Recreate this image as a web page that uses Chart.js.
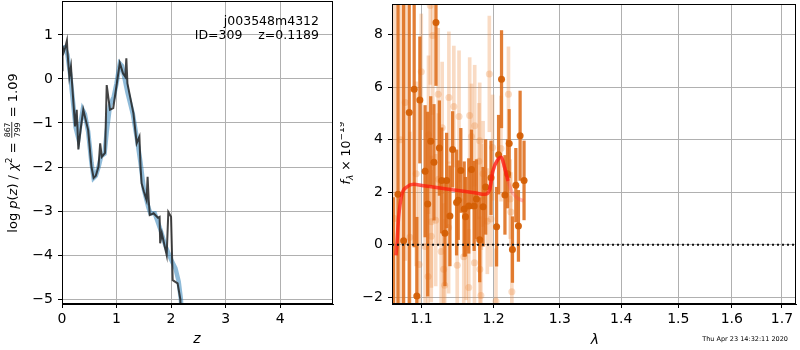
<!DOCTYPE html>
<html>
<head>
<meta charset="utf-8">
<script src="https://cdn.jsdelivr.net/npm/chart.js@4.4.0/dist/chart.umd.min.js"></script>
<style>
  html, body { margin: 0; padding: 0; background: #fff; }
  #wrap { position: relative; width: 800px; height: 350px; overflow: hidden; }
  #c-pz { position: absolute; left: 0; top: 0; }
  #c-spec { position: absolute; left: 340px; top: 0; }
</style>
</head>
<body>
<div id="wrap">
  <canvas id="c-pz" width="340" height="350"></canvas>
  <canvas id="c-spec" width="460" height="350"></canvas>
</div>
<script>
// p(z) panel
const zDark = [0, 0.01, 0.03, 0.06, 0.09, 0.10, 0.135, 0.165, 0.18, 0.21, 0.24, 0.27, 0.30, 0.34, 0.39,
  0.48, 0.54, 0.58, 0.62, 0.67, 0.70, 0.73, 0.79, 0.82, 0.88, 0.94, 1.06, 1.12, 1.16, 1.18, 1.20,
  1.31, 1.37, 1.42, 1.44, 1.46, 1.50, 1.55, 1.57, 1.59, 1.61, 1.68, 1.76, 1.79, 1.80, 1.83, 1.92,
  1.95, 2.00, 2.03, 2.12, 2.17, 2.19];
const pDark = [0.2, 0.75, 0.6, 0.72, 0.87, 0.62, 0.05, 0.28, -0.02, -0.55, -1.08, -0.70, -1.6, -1.16, -0.70,
  -1.16, -1.99, -2.25, -2.2, -1.99, -1.46, -1.77, -1.68, -0.14, -0.70, -0.66, 0.36, 0.12, 0.05, 0.47, -0.1,
  -0.78, -1.46, -1.31, -1.99, -2.37, -2.55, -2.75, -2.22, -2.75, -3.09, -3.05, -3.15, -3.13, -3.73, -3.5, -4.0,
  -3.02, -3.13, -4.57, -4.64, -5.0, -5.6];
const zBlue = [0, 0.05, 0.10, 0.15, 0.20, 0.25, 0.30, 0.34, 0.38, 0.42, 0.48, 0.54, 0.58, 0.62, 0.67,
  0.72, 0.78, 0.82, 0.88, 0.95, 1.00, 1.06, 1.10, 1.15, 1.20, 1.30, 1.38, 1.44, 1.50, 1.58, 1.62,
  1.70, 1.80, 1.90, 2.00, 2.08, 2.14, 2.18, 2.20];
const pBlue = [0.7, 0.72, 0.55, 0.1, -0.5, -1.1, -1.35, -1.0, -0.7, -0.8, -1.2, -1.9, -2.25, -2.2, -2.0,
  -1.75, -1.7, -1.2, -0.6, -0.4, -0.1, 0.35, 0.3, 0.0, -0.3, -0.8, -1.4, -1.9, -2.5, -2.9, -3.05,
  -3.05, -3.4, -3.8, -4.1, -4.3, -4.6, -5.0, -5.5];

// spectrum panel
const wDark = [1.0632, 1.0692, 1.0765, 1.0838, 1.0903, 1.0938, 1.0978, 1.1048, 1.1083, 1.1123, 1.1167,
  1.1194, 1.1240, 1.1271, 1.1316, 1.1339, 1.1384, 1.1421, 1.1476, 1.1499, 1.1535, 1.1582, 1.1600,
  1.1646, 1.1684, 1.1722, 1.1754, 1.1801, 1.1849, 1.1886, 1.1963, 1.2044, 1.2073, 1.2116, 1.2166,
  1.2204, 1.2229, 1.2277, 1.2327, 1.2366, 1.2391, 1.2450];
const fDark = [-3.5, 1.92, 0.16, 5.03, 5.92, -1.95, 5.51, 2.80, 1.55, 3.94, 3.14,
  8.46, 3.68, 2.45, 0.44, 2.45, 1.10, 3.63, 1.61, 1.70, 2.83, 1.36, 1.07,
  1.48, 2.87, 1.48, 1.74, 0.19, 1.45, 2.20, 2.55, 0.69, 3.43, 6.30, 1.90,
  2.70, 3.85, -0.18, 2.27, 0.72, 4.15, 2.45];
const eDark = [5.3, 9, 10, 8, 6, 3, 2.4, 2.5, 3.5, 1.7, 2.2,
  2.4, 1.8, 2.0, 2.0, 1.8, 1.9, 1.44, 2.0, 1.5, 1.6, 1.8, 1.5,
  1.8, 1.5, 1.7, 1.5, 1.6, 1.5, 1.8, 1.4, 1.5, 1.5, 1.85, 1.5,
  1.3, 1.3, 1.25, 1.4, 1.35, 1.7, 1.5];

const wLight = [1.0647, 1.0724, 1.0786, 1.0847, 1.0929, 1.0968, 1.0997, 1.1048, 1.1087, 1.1093, 1.1117,
  1.1130, 1.1132, 1.1150, 1.1190, 1.1224, 1.1227, 1.1264, 1.1278, 1.1298, 1.1312, 1.1366, 1.1370,
  1.1438, 1.1485, 1.1510, 1.1576, 1.1610, 1.1646, 1.1659, 1.1684, 1.1726, 1.1730, 1.1790, 1.1801,
  1.1803, 1.1818, 1.1825, 1.1849, 1.1910, 1.1939, 1.1963, 1.1986, 1.2035, 1.2108, 1.2218, 1.2243,
  1.2253, 1.2268];
const fLight = [1.0, 4.0, 5.41, 0.29, 2.70, -0.75, 6.58, -0.06, -1.20, 4.19, 9.10,
  0.33, 0.88, 7.96, 0.94, 5.73, 2.49, -0.25, 4.45, -0.93, -1.54, 0.66, 5.60,
  5.26, -0.78, 4.88, -0.45, -0.09, -1.62, 4.92, 4.12, -0.68, 4.53, 3.18, 3.96,
  -0.93, -1.93, 1.82, 2.70, 0.90, 6.50, 0.98, 3.70, -2.15, 3.66, 5.73, 1.74,
  1.25, -1.78];
const eLight = [10, 7, 6, 4, 3.5, 3, 2.2, 3, 2.8, 3, 3,
  2.5, 2.5, 3, 2.5, 2.5, 2.5, 2.5, 2.5, 2.5, 2.5, 2.5, 2.5,
  2.3, 2.3, 2.5, 2.2, 2.0, 2.2, 2.2, 2.0, 2.0, 2.3, 2.2, 2.2,
  2.0, 2.0, 2.0, 2.0, 2.0, 2.2, 1.8, 2.0, 2.0, 2.0, 1.8, 1.5,
  1.5, 1.5];

const wModel = [1.0666, 1.0678, 1.0700, 1.0743, 1.0808, 1.0896, 1.1004, 1.1270, 1.1497, 1.1730,
  1.1873, 1.1945, 1.1989, 1.2063, 1.2113, 1.2162, 1.2212];
const fModel = [-0.4, 0.04, 1.04, 1.92, 2.20, 2.30, 2.26, 2.15, 2.07, 1.98,
  1.92, 2.11, 2.80, 3.25, 3.33, 2.93, 2.43];
const wModel2 = [1.1945, 1.1989, 1.2063, 1.2113, 1.2162, 1.2212, 1.2263, 1.2339, 1.2441];
const fModel2 = [2.11, 2.80, 3.25, 3.33, 2.93, 2.43, 2.05, 1.80, 1.67];

const wZero = [1.0615, 1.729];
const fZero = [0, 0];

const xTicksSpec = [1.1, 1.2, 1.3, 1.4, 1.5, 1.6, 1.7];

Chart.defaults.font.family = 'DejaVu Sans';
Chart.defaults.font.size = 14;
Chart.defaults.color = '#000';

const GRID = '#b0b0b0';
const REG = 'DejaVu Sans';

function pts(xs, ys) {
  return xs.map((x, i) => ({ x, y: ys[i] }));
}
function errs(xs, ys, es) {
  return xs.map((x, i) => ({ x, y: [ys[i] - es[i], ys[i] + es[i]] }));
}
function minus(v) {
  return v < 0 ? '\u2212' + Math.abs(v) : String(v);
}

// draws a row of text pieces centred on the origin
function drawPieces(ctx, pieces) {
  let w = 0;
  pieces.forEach(p => {
    ctx.font = p.font;
    p.w = p.frac
      ? Math.max(ctx.measureText(p.num).width, ctx.measureText(p.den).width) + 2
      : ctx.measureText(p.t).width;
    w += p.w;
  });
  let x = -w / 2;
  ctx.textBaseline = 'alphabetic';
  pieces.forEach(p => {
    ctx.font = p.font;
    if (p.frac) {
      ctx.textAlign = 'center';
      ctx.fillText(p.num, x + p.w / 2, -6.4);
      ctx.fillText(p.den, x + p.w / 2, 3.6);
      ctx.fillRect(x + 0.5, -5.1, p.w - 1, 0.8);
      ctx.textAlign = 'left';
    } else {
      ctx.textAlign = 'left';
      ctx.fillText(p.t, x, p.dy || 0);
    }
    x += p.w;
  });
}

const framePlugin = {
  id: 'frame',
  afterDraw(chart) {
    const { ctx, chartArea: a } = chart;
    ctx.save();
    ctx.strokeStyle = '#000';
    ctx.lineWidth = 1;
    ctx.strokeRect(a.left + 0.5, a.top + 0.5, a.right - a.left - 1, a.bottom - a.top - 1);
    ctx.restore();
  }
};

const pzText = {
  id: 'pzText',
  afterDraw(chart) {
    const ctx = chart.ctx;
    ctx.save();
    ctx.fillStyle = '#000';
    ctx.font = '12.5px ' + REG;
    ctx.textAlign = 'right';
    ctx.fillText('j003548m4312', 319, 25);
    ctx.fillText('ID=309    z=0.1189', 319, 39);
    ctx.font = 'italic 14px ' + REG;
    ctx.textAlign = 'center';
    ctx.fillText('z', 197, 343);
    ctx.translate(16.5, 153);
    ctx.rotate(-Math.PI / 2);
    const f = '13px ' + REG, fi = 'italic 13px ' + REG, fs = '9px ' + REG;
    drawPieces(ctx, [
      { t: 'log ', font: f }, { t: 'p', font: fi }, { t: '(', font: f }, { t: 'z', font: fi },
      { t: ') / ', font: f }, { t: '\u03c7', font: fi }, { t: '2', font: fs, dy: -5 },
      { t: ' = ', font: f }, { frac: true, num: '867', den: '799', font: '7.8px ' + REG },
      { t: ' = 1.09', font: f }
    ]);
    ctx.restore();
  }
};

const specText = {
  id: 'specText',
  afterDraw(chart) {
    const ctx = chart.ctx;
    ctx.save();
    ctx.fillStyle = '#000';
    ctx.font = 'italic 14px ' + REG;
    ctx.textAlign = 'center';
    ctx.fillText('\u03bb', 255, 344);
    ctx.font = '6.5px ' + REG;
    ctx.textAlign = 'right';
    ctx.fillText('Thu Apr 23 14:32:11 2020', 448, 341);
    ctx.translate(10, 153);
    ctx.rotate(-Math.PI / 2);
    const f = '12.5px ' + REG, fi = 'italic 12.5px ' + REG, fs = '9px ' + REG;
    drawPieces(ctx, [
      { t: 'f', font: fi }, { t: '\u03bb', font: 'italic 9px ' + REG, dy: 3 },
      { t: ' \u00d7 10', font: f }, { t: '\u221219', font: fs, dy: -6 }
    ]);
    ctx.restore();
  }
};

const axisCommon = {
  grid: { color: GRID, lineWidth: 1, tickColor: '#000', tickLength: 4 },
  border: { color: '#000', width: 1 }
};

// keep the plot box where matplotlib put it: no room reserved for half-labels
function fixY(w) {
  return s => { s.width = w; s.paddingTop = 0; s.paddingBottom = 0; };
}
function fixX(h) {
  return s => { s.height = h; s.paddingLeft = 0; s.paddingRight = 0; };
}

new Chart(document.getElementById('c-pz'), {
  type: 'scatter',
  data: {
    datasets: [
      { data: pts(zDark, pDark), showLine: true, borderColor: 'rgba(35,35,35,0.85)', borderWidth: 2,
        pointRadius: 0, tension: 0 },
      { data: pts(zBlue, pBlue), showLine: true, borderColor: 'rgba(31,119,180,0.5)', borderWidth: 4.5,
        pointRadius: 0, tension: 0 }
    ]
  },
  options: {
    responsive: false,
    animation: false,
    events: [],
    layout: { padding: { top: 1, right: 7, left: 0, bottom: 0 } },
    plugins: { legend: { display: false }, tooltip: { enabled: false } },
    scales: {
      x: {
        ...axisCommon,
        type: 'linear', min: 0, max: 4.97,
        ticks: { stepSize: 1, includeBounds: false, padding: 3, callback: v => minus(v) },
        afterFit: fixX(46)
      },
      y: {
        ...axisCommon,
        type: 'linear', min: -5.11, max: 1.77,
        ticks: { stepSize: 1, includeBounds: false, padding: 5, callback: v => minus(v) },
        afterFit: fixY(62)
      }
    }
  },
  plugins: [framePlugin, pzText]
});

new Chart(document.getElementById('c-spec'), {
  type: 'scatter',
  data: {
    datasets: [
      { type: 'line', data: pts(wZero, fZero), borderColor: '#111', borderWidth: 2,
        borderDash: [2, 3], pointRadius: 0 },
      { type: 'line', data: pts(wModel, fModel), borderColor: 'rgba(255,20,10,0.7)', borderWidth: 3.5,
        pointRadius: 0, cubicInterpolationMode: 'monotone' },
      { type: 'line', data: pts(wModel2, fModel2), borderColor: 'rgba(255,70,70,0.35)', borderWidth: 3.5,
        pointRadius: 0, cubicInterpolationMode: 'monotone' },
      { data: pts(wDark, fDark), pointRadius: 3.5, pointBackgroundColor: 'rgba(212,95,5,0.95)',
        pointBorderWidth: 0 },
      { type: 'bar', data: errs(wDark, fDark, eDark), backgroundColor: 'rgba(222,108,25,0.88)',
        barThickness: 2.6, grouped: false, borderWidth: 0 },
      { data: pts(wLight, fLight), pointRadius: 3.5, pointBackgroundColor: 'rgba(235,135,60,0.3)',
        pointBorderWidth: 0 },
      { type: 'bar', data: errs(wLight, fLight, eLight), backgroundColor: 'rgba(235,135,60,0.3)',
        barThickness: 3, grouped: false, borderWidth: 0 }
    ]
  },
  options: {
    responsive: false,
    animation: false,
    events: [],
    layout: { padding: { top: 1, right: 1, left: 0, bottom: 0 } },
    plugins: { legend: { display: false }, tooltip: { enabled: false } },
    scales: {
      x: {
        ...axisCommon,
        type: 'logarithmic', min: 1.0615, max: 1.729, offset: false,
        grid: { ...axisCommon.grid, offset: false },
        afterBuildTicks: s => { s.ticks = xTicksSpec.map(v => ({ value: v })); },
        ticks: { padding: 3, autoSkip: false, maxRotation: 0, callback: v => Number(v).toFixed(1) },
        afterFit: fixX(46)
      },
      y: {
        ...axisCommon,
        type: 'linear', min: -2.25, max: 9.16,
        ticks: { stepSize: 2, includeBounds: false, padding: 5, callback: v => minus(v) },
        afterFit: fixY(52)
      }
    }
  },
  plugins: [framePlugin, specText]
});
</script>
</body>
</html>
